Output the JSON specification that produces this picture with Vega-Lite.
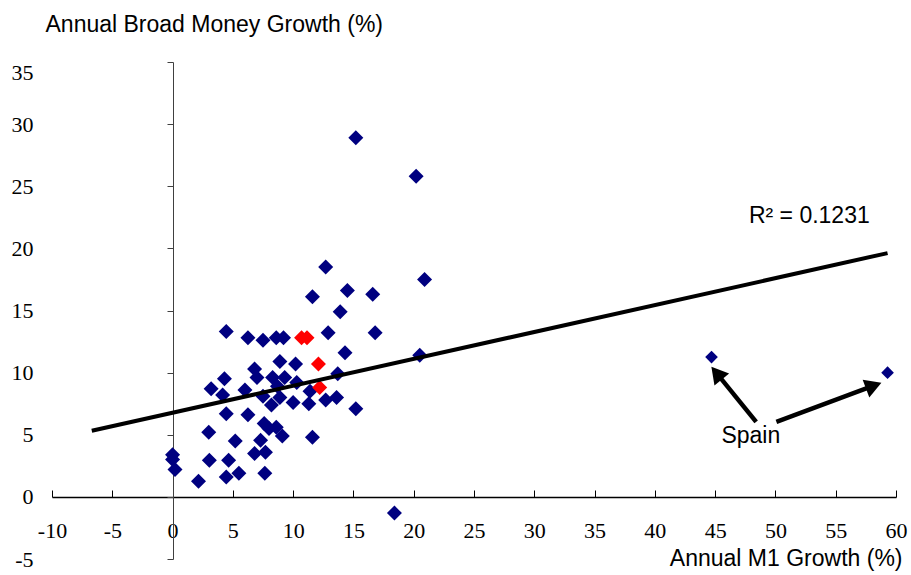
{
  "$schema": "https://vega.github.io/schema/vega-lite/v6.json",
  "width": 844,
  "height": 497,
  "autosize": "none",
  "padding": {"left": 52, "top": 62, "right": 15, "bottom": 16},
  "background": "white",
  "config": {"view": {"stroke": null}, "axis": {"grid": false}},
  "datasets": {
    "countries": [
      {"x": 15.2, "y": 28.9, "group": "country"},
      {"x": 20.2, "y": 25.8, "group": "country"},
      {"x": 12.7, "y": 18.5, "group": "country"},
      {"x": 20.9, "y": 17.5, "group": "country"},
      {"x": 14.5, "y": 16.6, "group": "country"},
      {"x": 16.6, "y": 16.3, "group": "country"},
      {"x": 11.6, "y": 16.1, "group": "country"},
      {"x": 13.9, "y": 14.9, "group": "country"},
      {"x": 4.45, "y": 13.3, "group": "country"},
      {"x": 6.25, "y": 12.8, "group": "country"},
      {"x": 7.5, "y": 12.6, "group": "country"},
      {"x": 8.6, "y": 12.8, "group": "country"},
      {"x": 9.2, "y": 12.8, "group": "country"},
      {"x": 12.9, "y": 13.2, "group": "country"},
      {"x": 16.8, "y": 13.2, "group": "country"},
      {"x": 14.3, "y": 11.6, "group": "country"},
      {"x": 20.5, "y": 11.4, "group": "country"},
      {"x": 8.9, "y": 10.9, "group": "country"},
      {"x": 10.2, "y": 10.7, "group": "country"},
      {"x": 6.8, "y": 10.3, "group": "country"},
      {"x": 7.0, "y": 9.6, "group": "country"},
      {"x": 4.3, "y": 9.5, "group": "country"},
      {"x": 8.3, "y": 9.6, "group": "country"},
      {"x": 9.3, "y": 9.6, "group": "country"},
      {"x": 10.3, "y": 9.2, "group": "country"},
      {"x": 13.7, "y": 9.9, "group": "country"},
      {"x": 3.2, "y": 8.7, "group": "country"},
      {"x": 6.0, "y": 8.6, "group": "country"},
      {"x": 4.15, "y": 8.2, "group": "country"},
      {"x": 11.4, "y": 8.5, "group": "country"},
      {"x": 8.7, "y": 8.9, "group": "country"},
      {"x": 7.5, "y": 8.1, "group": "country"},
      {"x": 8.2, "y": 7.4, "group": "country"},
      {"x": 8.9, "y": 8.0, "group": "country"},
      {"x": 10.0, "y": 7.6, "group": "country"},
      {"x": 11.3, "y": 7.5, "group": "country"},
      {"x": 12.7, "y": 7.8, "group": "country"},
      {"x": 13.6, "y": 8.0, "group": "country"},
      {"x": 15.2, "y": 7.1, "group": "country"},
      {"x": 4.45, "y": 6.7, "group": "country"},
      {"x": 6.25, "y": 6.6, "group": "country"},
      {"x": 7.6, "y": 5.9, "group": "country"},
      {"x": 8.0, "y": 5.5, "group": "country"},
      {"x": 8.6, "y": 5.6, "group": "country"},
      {"x": 9.1, "y": 4.9, "group": "country"},
      {"x": 11.6, "y": 4.8, "group": "country"},
      {"x": 3.0, "y": 5.2, "group": "country"},
      {"x": 5.2, "y": 4.5, "group": "country"},
      {"x": 7.3, "y": 4.55, "group": "country"},
      {"x": 6.8, "y": 3.5, "group": "country"},
      {"x": 7.7, "y": 3.6, "group": "country"},
      {"x": 0.0, "y": 3.4, "group": "country"},
      {"x": 0.0, "y": 3.0, "group": "country"},
      {"x": 0.2, "y": 2.2, "group": "country"},
      {"x": 3.05, "y": 2.95, "group": "country"},
      {"x": 4.65, "y": 2.95, "group": "country"},
      {"x": 5.5, "y": 1.9, "group": "country"},
      {"x": 7.65, "y": 1.9, "group": "country"},
      {"x": 4.45, "y": 1.6, "group": "country"},
      {"x": 2.15, "y": 1.25, "group": "country"},
      {"x": 18.4, "y": -1.3, "group": "country"},
      {"x": 10.7, "y": 12.8, "group": "highlight"},
      {"x": 11.15, "y": 12.8, "group": "highlight"},
      {"x": 12.1, "y": 10.7, "group": "highlight"},
      {"x": 12.2, "y": 8.8, "group": "highlight"},
      {"x": 44.7, "y": 11.25, "group": "Spain"},
      {"x": 59.3, "y": 10.0, "group": "Spain"}
    ],
    "trend": [
      {"x": -6.7, "y": 5.32},
      {"x": 59.3, "y": 19.62}
    ],
    "arrows": [
      {"arrow": "a1", "x": 48.4, "y": 6.04},
      {"arrow": "a1", "x": 45.12, "y": 9.96},
      {"arrow": "a2", "x": 50.08, "y": 6.04},
      {"arrow": "a2", "x": 58.15, "y": 8.95}
    ],
    "heads": [
      {"arrow": "a1", "x": 45.12, "y": 9.96},
      {"arrow": "a2", "x": 58.15, "y": 8.95}
    ],
    "notes": [
      {"label": "R² = 0.1231", "x": 47.8, "y": 22.06},
      {"label": "Spain", "x": 45.52, "y": 4.35}
    ]
  },
  "resolve": {"axis": {"x": "independent", "y": "independent"}},
  "layer": [
    {
      "data": {"name": "countries"},
      "transform": [{"filter": "datum.group === 'country'"}],
      "mark": {"type": "point", "shape": "diamond", "filled": true, "size": 225, "color": "#000080", "opacity": 1},
      "encoding": {
        "x": {
          "field": "x", "type": "quantitative",
          "scale": {"domain": [-10, 60], "nice": false, "zero": false},
          "axis": {
            "orient": "top", "offset": -435,
            "values": [-10, -5, 0, 5, 10, 15, 20, 25, 30, 35, 40, 45, 50, 55, 60],
            "labels": false, "title": null, "grid": false,
            "domainColor": "black", "domainWidth": 1.5,
            "tickColor": "black", "tickSize": 7, "tickWidth": 1
          }
        },
        "y": {
          "field": "y", "type": "quantitative",
          "scale": {"domain": [-5, 35], "nice": false, "zero": false},
          "axis": {
            "orient": "left", "offset": -121,
            "values": [-5, 0, 5, 10, 15, 20, 25, 30, 35],
            "labels": false, "title": null, "grid": false,
            "domainColor": "#404040", "domainWidth": 1,
            "tickColor": "#404040", "tickSize": 6, "tickWidth": 1
          }
        }
      }
    },
    {
      "data": {"name": "countries"},
      "transform": [{"filter": "datum.group === 'highlight'"}],
      "mark": {"type": "point", "shape": "diamond", "filled": true, "size": 225, "color": "#FF0000", "opacity": 1},
      "encoding": {
        "x": {"field": "x", "type": "quantitative", "scale": {"domain": [-10, 60], "nice": false, "zero": false}, "axis": null},
        "y": {"field": "y", "type": "quantitative", "scale": {"domain": [-5, 35], "nice": false, "zero": false}, "axis": null}
      }
    },
    {
      "data": {"name": "countries"},
      "transform": [{"filter": "datum.group === 'Spain'"}],
      "mark": {"type": "point", "shape": "diamond", "filled": true, "size": 160, "color": "#000080", "opacity": 1},
      "encoding": {
        "x": {"field": "x", "type": "quantitative", "scale": {"domain": [-10, 60], "nice": false, "zero": false}, "axis": null},
        "y": {"field": "y", "type": "quantitative", "scale": {"domain": [-5, 35], "nice": false, "zero": false}, "axis": null}
      }
    },
    {
      "data": {"name": "trend"},
      "mark": {"type": "line", "color": "black", "strokeWidth": 4},
      "encoding": {
        "x": {
          "field": "x", "type": "quantitative",
          "scale": {"domain": [-10, 60], "nice": false, "zero": false},
          "axis": {
            "orient": "bottom", "offset": -62,
            "values": [-10, -5, 0, 5, 10, 15, 20, 25, 30, 35, 40, 45, 50, 55, 60],
            "labelExpr": "datum.value + ''",
            "domain": false, "ticks": false, "tickSize": 0, "grid": false,
            "labelPadding": 23, "labelFont": "Liberation Serif", "labelFontSize": 22,
            "labelColor": "black", "labelFlush": false, "labelOverlap": false,
            "title": "Annual M1 Growth (%)",
            "titleFont": "Liberation Sans", "titleFontSize": 23, "titleFontWeight": "normal",
            "titleColor": "black", "titleX": 850, "titleY": 68,
            "titleAlign": "right", "titleBaseline": "alphabetic", "titleAnchor": "end"
          }
        },
        "y": {
          "field": "y", "type": "quantitative",
          "scale": {"domain": [-5, 35], "nice": false, "zero": false},
          "axis": {
            "orient": "left", "offset": 0,
            "values": [-5, 0, 5, 10, 15, 20, 25, 30, 35],
            "labelExpr": "datum.value + ''",
            "domain": false, "ticks": false, "tickSize": 0, "grid": false,
            "labelPadding": 19, "labelFont": "Liberation Serif", "labelFontSize": 22,
            "labelColor": "black", "labelFlush": false, "labelOverlap": false,
            "labelBaseline": {"condition": {"test": "datum.value === 35", "value": "top"}, "value": "middle"},
            "title": "Annual Broad Money Growth (%)",
            "titleFont": "Liberation Sans", "titleFontSize": 23, "titleFontWeight": "normal",
            "titleColor": "black", "titleAngle": 0, "titleAlign": "left",
            "titleBaseline": "alphabetic", "titleX": -7, "titleY": -31
          }
        }
      }
    },
    {
      "data": {"name": "arrows"},
      "mark": {"type": "line", "color": "black", "strokeWidth": 4.5},
      "encoding": {
        "x": {"field": "x", "type": "quantitative", "scale": {"domain": [-10, 60], "nice": false, "zero": false}, "axis": null},
        "y": {"field": "y", "type": "quantitative", "scale": {"domain": [-5, 35], "nice": false, "zero": false}, "axis": null},
        "detail": {"field": "arrow"}
      }
    },
    {
      "data": {"name": "heads"},
      "transform": [{"filter": "datum.arrow === 'a1'"}],
      "mark": {"type": "point", "shape": "triangle-up", "filled": true, "size": 360, "color": "black", "opacity": 1, "angle": -39.3},
      "encoding": {
        "x": {"field": "x", "type": "quantitative", "scale": {"domain": [-10, 60], "nice": false, "zero": false}, "axis": null},
        "y": {"field": "y", "type": "quantitative", "scale": {"domain": [-5, 35], "nice": false, "zero": false}, "axis": null}
      }
    },
    {
      "data": {"name": "heads"},
      "transform": [{"filter": "datum.arrow === 'a2'"}],
      "mark": {"type": "point", "shape": "triangle-up", "filled": true, "size": 360, "color": "black", "opacity": 1, "angle": 69.6},
      "encoding": {
        "x": {"field": "x", "type": "quantitative", "scale": {"domain": [-10, 60], "nice": false, "zero": false}, "axis": null},
        "y": {"field": "y", "type": "quantitative", "scale": {"domain": [-5, 35], "nice": false, "zero": false}, "axis": null}
      }
    },
    {
      "data": {"name": "notes"},
      "mark": {"type": "text", "font": "Liberation Sans", "fontSize": 23, "color": "black", "align": "left", "baseline": "alphabetic"},
      "encoding": {
        "x": {"field": "x", "type": "quantitative", "scale": {"domain": [-10, 60], "nice": false, "zero": false}, "axis": null},
        "y": {"field": "y", "type": "quantitative", "scale": {"domain": [-5, 35], "nice": false, "zero": false}, "axis": null},
        "text": {"field": "label"}
      }
    }
  ]
}
